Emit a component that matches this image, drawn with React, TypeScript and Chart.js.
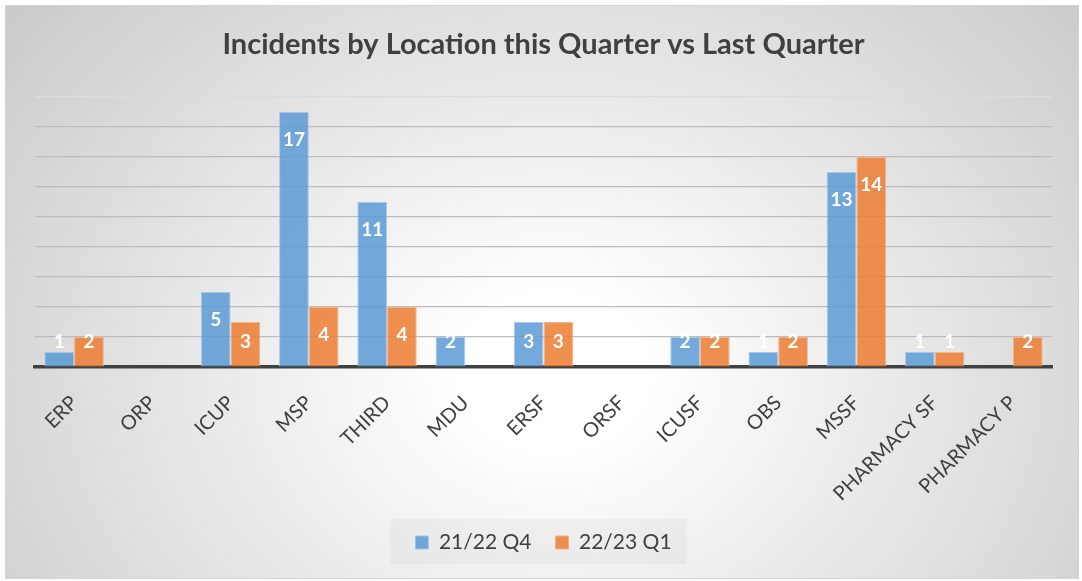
import React, { useEffect, useRef } from "react";
import { Chart, registerables } from "chart.js";

Chart.register(...registerables);

const categories = [
  "ERP",
  "ORP",
  "ICUP",
  "MSP",
  "THIRD",
  "MDU",
  "ERSF",
  "ORSF",
  "ICUSF",
  "OBS",
  "MSSF",
  "PHARMACY SF",
  "PHARMACY P",
];
const q4Values: (number | null)[] = [1, null, 5, 17, 11, 2, 3, null, 2, 1, 13, 1, null];
const q1Values: (number | null)[] = [2, null, 3, 4, 4, null, 3, null, 2, 2, 14, 1, 2];
const seriesNames = ["21/22 Q4", "22/23 Q1"];
const titleText = "Incidents by Location this Quarter vs Last Quarter";
const yMax = 18;
const yStep = 2;

const FONT = "Lato, 'Open Sans', sans-serif";

const barLabelPlugin = {
  id: "barLabels",
  afterDatasetsDraw(chart: any) {
    const ctx = chart.ctx;
    const base = chart.scales.y.getPixelForValue(0);
    ctx.save();
    ctx.font = `bold 19px ${FONT}`;
    ctx.fillStyle = "#ffffff";
    ctx.textAlign = "center";
    ctx.textBaseline = "middle";
    chart.data.datasets.forEach((ds: any, di: number) => {
      const meta = chart.getDatasetMeta(di);
      meta.data.forEach((bar: any, i: number) => {
        const v = ds.data[i];
        if (v === null || v === undefined) return;
        const y = Math.min(bar.y + 28, base - 25);
        ctx.fillText(String(v), bar.x, y);
      });
    });
    ctx.restore();
  },
};

const legendBackdropPlugin = {
  id: "legendBackdrop",
  beforeDraw(chart: any) {
    const lg = chart.legend;
    if (!lg || !lg.legendHitBoxes || !lg.legendHitBoxes.length) return;
    const boxes = lg.legendHitBoxes;
    const first = boxes[0];
    const last = boxes[boxes.length - 1];
    const ctx = chart.ctx;
    ctx.save();
    ctx.fillStyle = "rgba(0,0,0,0.03)";
    const l = first.left - 25;
    const r = last.left + last.width + 15;
    const t = first.top - 13;
    const b = first.top + first.height + 11;
    ctx.fillRect(l, t, r - l, b - t);
    ctx.restore();
  },
};

export default function App() {
  const ref = useRef<HTMLCanvasElement>(null);

  useEffect(() => {
    const canvas = ref.current;
    if (!canvas) return;
    const chart = new Chart(canvas, {
      type: "bar",
      data: {
        labels: categories,
        datasets: [
          {
            label: seriesNames[0],
            data: q4Values,
            backgroundColor: "rgba(91,155,213,0.85)",
            borderColor: "rgba(160,196,232,0.9)",
            borderWidth: 1,
            categoryPercentage: 0.76,
            barPercentage: 1,
          },
          {
            label: seriesNames[1],
            data: q1Values,
            backgroundColor: "rgba(237,125,49,0.85)",
            borderColor: "rgba(245,175,130,0.9)",
            borderWidth: 1,
            categoryPercentage: 0.76,
            barPercentage: 1,
          },
        ],
      },
      options: {
        responsive: false,
        animation: false,
        layout: { padding: { left: 35, right: 30, top: 0, bottom: 18 } },
        plugins: {
          tooltip: { enabled: false },
          title: {
            display: true,
            text: titleText,
            color: "#404040",
            font: { family: FONT, size: 29, weight: "bold" },
            padding: { top: 27.6, bottom: 34.6 },
          },
          legend: {
            position: "bottom",
            labels: {
              boxWidth: 13,
              boxHeight: 13,
              color: "#404040",
              font: { family: FONT, size: 21 },
              padding: 24,
            },
          },
        },
        scales: {
          x: {
            grid: { display: false, drawTicks: false },
            border: { display: true, color: "#404040", width: 3.5 },
            ticks: {
              color: "#404040",
              font: { family: FONT, size: 20 },
              minRotation: 45,
              maxRotation: 45,
              autoSkip: false,
              padding: 24,
            },
            afterFit: (s: any) => {
              s.height = 141;
            },
          },
          y: {
            min: 0,
            max: yMax,
            ticks: { display: false, stepSize: yStep },
            grid: {
              drawTicks: false,
              color: (c: any) => (c.tick && c.tick.value === yMax ? "#dcdcdc" : "#bdbdbd"),
              lineWidth: 1.2,
            },
            border: { display: false },
          },
        },
      },
      plugins: [barLabelPlugin, legendBackdropPlugin],
    } as any);
    return () => chart.destroy();
  }, []);

  return (
    <div
      style={{
        position: "absolute",
        left: 0,
        top: 0,
        width: 1082,
        height: 581,
        background: "#ffffff",
        overflow: "hidden",
      }}
    >
      <div
        style={{
          position: "absolute",
          left: 5,
          top: 5,
          width: 1074,
          height: 574,
          boxSizing: "border-box",
          border: "1px solid #d4d4d4",
          background:
            "radial-gradient(ellipse 72% 110% at 51% 64%, #ffffff 0%, #ffffff 12%, #c4c4c4 100%)",
        }}
      />
      <canvas
        ref={ref}
        width={1082}
        height={581}
        style={{ position: "absolute", left: 0, top: 0, width: 1082, height: 581 }}
      />
    </div>
  );
}
